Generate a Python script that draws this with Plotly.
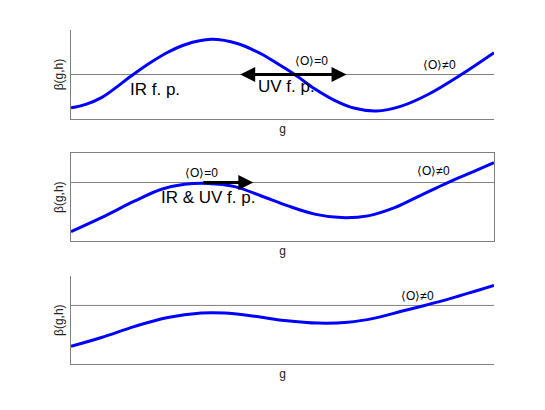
import plotly.graph_objects as go
from plotly.subplots import make_subplots

# beta function sketches (g in arbitrary units 0..10)
g_top = [0, 0.35, 0.72, 1.47, 1.90, 2.29, 2.69, 3.32, 3.95, 4.50, 4.89, 5.29, 5.76, 6.23, 6.71, 7.22, 7.81, 8.44, 9.23, 10]
beta_top = [-0.75, -0.67, -0.52, 0, 0.28, 0.50, 0.67, 0.79, 0.69, 0.46, 0.24, 0, -0.32, -0.58, -0.76, -0.82, -0.71, -0.45, 0, 0.49]

g_mid = [0, 0.72, 1.51, 2.14, 2.69, 3.24, 3.87, 4.50, 5.13, 5.76, 6.39, 7.02, 7.65, 8.28, 8.91, 9.46, 10]
beta_mid = [-1.68, -1.20, -0.63, -0.23, -0.06, -0.03, -0.14, -0.46, -0.80, -1.08, -1.20, -1.14, -0.86, -0.43, 0, 0.34, 0.68]

g_bot = [0, 0.72, 1.51, 2.29, 3.08, 3.63, 4.34, 5.05, 5.84, 6.55, 7.18, 7.81, 8.36, 9.0, 10]
beta_bot = [-1.39, -1.09, -0.71, -0.41, -0.26, -0.26, -0.37, -0.51, -0.60, -0.57, -0.43, -0.20, 0, 0.25, 0.68]

y_ranges = [[-1, 1], [-2, 1], [-2, 1]]

fig = make_subplots(rows=3, cols=1)

for i, (g, b) in enumerate([(g_top, beta_top), (g_mid, beta_mid), (g_bot, beta_bot)]):
    row = i + 1
    # zero line
    fig.add_trace(go.Scatter(x=[0, 10], y=[0, 0], mode='lines', line=dict(color='#808080', width=1),
                             showlegend=False, hoverinfo='skip'), row=row, col=1)
    fig.add_trace(go.Scatter(x=g, y=b, mode='lines', line=dict(color='#0000ff', width=3, shape='spline', smoothing=1.0),
                             showlegend=False, hoverinfo='skip'), row=row, col=1)

font_main = 'Liberation Sans, Arial, sans-serif'
# page body adds an 8px offset, domains compensate for it
domains = [[0.7293, 0.9463], [0.4317, 0.6456], [0.1310, 0.3463]]
for i in range(3):
    xa = 'xaxis' if i == 0 else f'xaxis{i + 1}'
    ya = 'yaxis' if i == 0 else f'yaxis{i + 1}'
    boxed = (i == 1)
    fig.update_layout({
        xa: dict(domain=[0.1156, 0.8917], range=[0, 10], showgrid=False, zeroline=False, showticklabels=False,
                 ticks='', showline=True, linecolor='#808080', linewidth=1, mirror=boxed, automargin=False,
                 title=dict(text='g', standoff=5, font=dict(size=12, color='#222'))),
        ya: dict(domain=domains[i], range=y_ranges[i], showgrid=False, zeroline=False, showticklabels=False,
                 ticks='', showline=True, linecolor='#808080', linewidth=1, mirror=boxed, automargin=False,
                 title=dict(text='β(g,h)', standoff=3, font=dict(size=12, color='#222'))),
    })

ann = []
# panel 1
ann.append(dict(xref='x', yref='y', axref='x', ayref='y', x=4.0, y=0, ax=6.55, ay=0, showarrow=True,
                arrowhead=2, startarrowhead=2, arrowside='end+start', arrowwidth=3, arrowsize=1,
                arrowcolor='black', startstandoff=0, standoff=0, text=''))
ann.append(dict(xref='x', yref='y', x=1.99, y=-0.34, text='IR f. p.', showarrow=False, font=dict(size=17)))
ann.append(dict(xref='x', yref='y', x=5.1, y=-0.28, text='UV f. p.', showarrow=False, font=dict(size=17)))
ann.append(dict(xref='x', yref='y', x=5.69, y=0.30, text='⟨O⟩=0', showarrow=False, font=dict(size=12)))
ann.append(dict(xref='x', yref='y', x=8.72, y=0.22, text='⟨O⟩≠0', showarrow=False, font=dict(size=12)))
# panel 2
ann.append(dict(xref='x2', yref='y2', axref='x2', ayref='y2', x=4.31, y=0, ax=3.09, ay=0, showarrow=True,
                arrowhead=2, arrowwidth=3, arrowsize=1, arrowcolor='black', standoff=0, text=''))
ann.append(dict(xref='x2', yref='y2', x=3.09, y=0.32, text='⟨O⟩=0', showarrow=False, font=dict(size=12)))
ann.append(dict(xref='x2', yref='y2', x=3.24, y=-0.52, text='IR &amp; UV f. p.', showarrow=False, font=dict(size=17)))
ann.append(dict(xref='x2', yref='y2', x=8.56, y=0.40, text='⟨O⟩≠0', showarrow=False, font=dict(size=12)))
# panel 3
ann.append(dict(xref='x3', yref='y3', x=8.20, y=0.32, text='⟨O⟩≠0', showarrow=False, font=dict(size=12)))

fig.update_layout(
    width=545, height=410,
    margin=dict(l=0, r=0, t=0, b=0),
    paper_bgcolor='white', plot_bgcolor='white',
    font=dict(family=font_main, color='black', size=12),
    annotations=ann,
)

fig.write_html("out.html")
